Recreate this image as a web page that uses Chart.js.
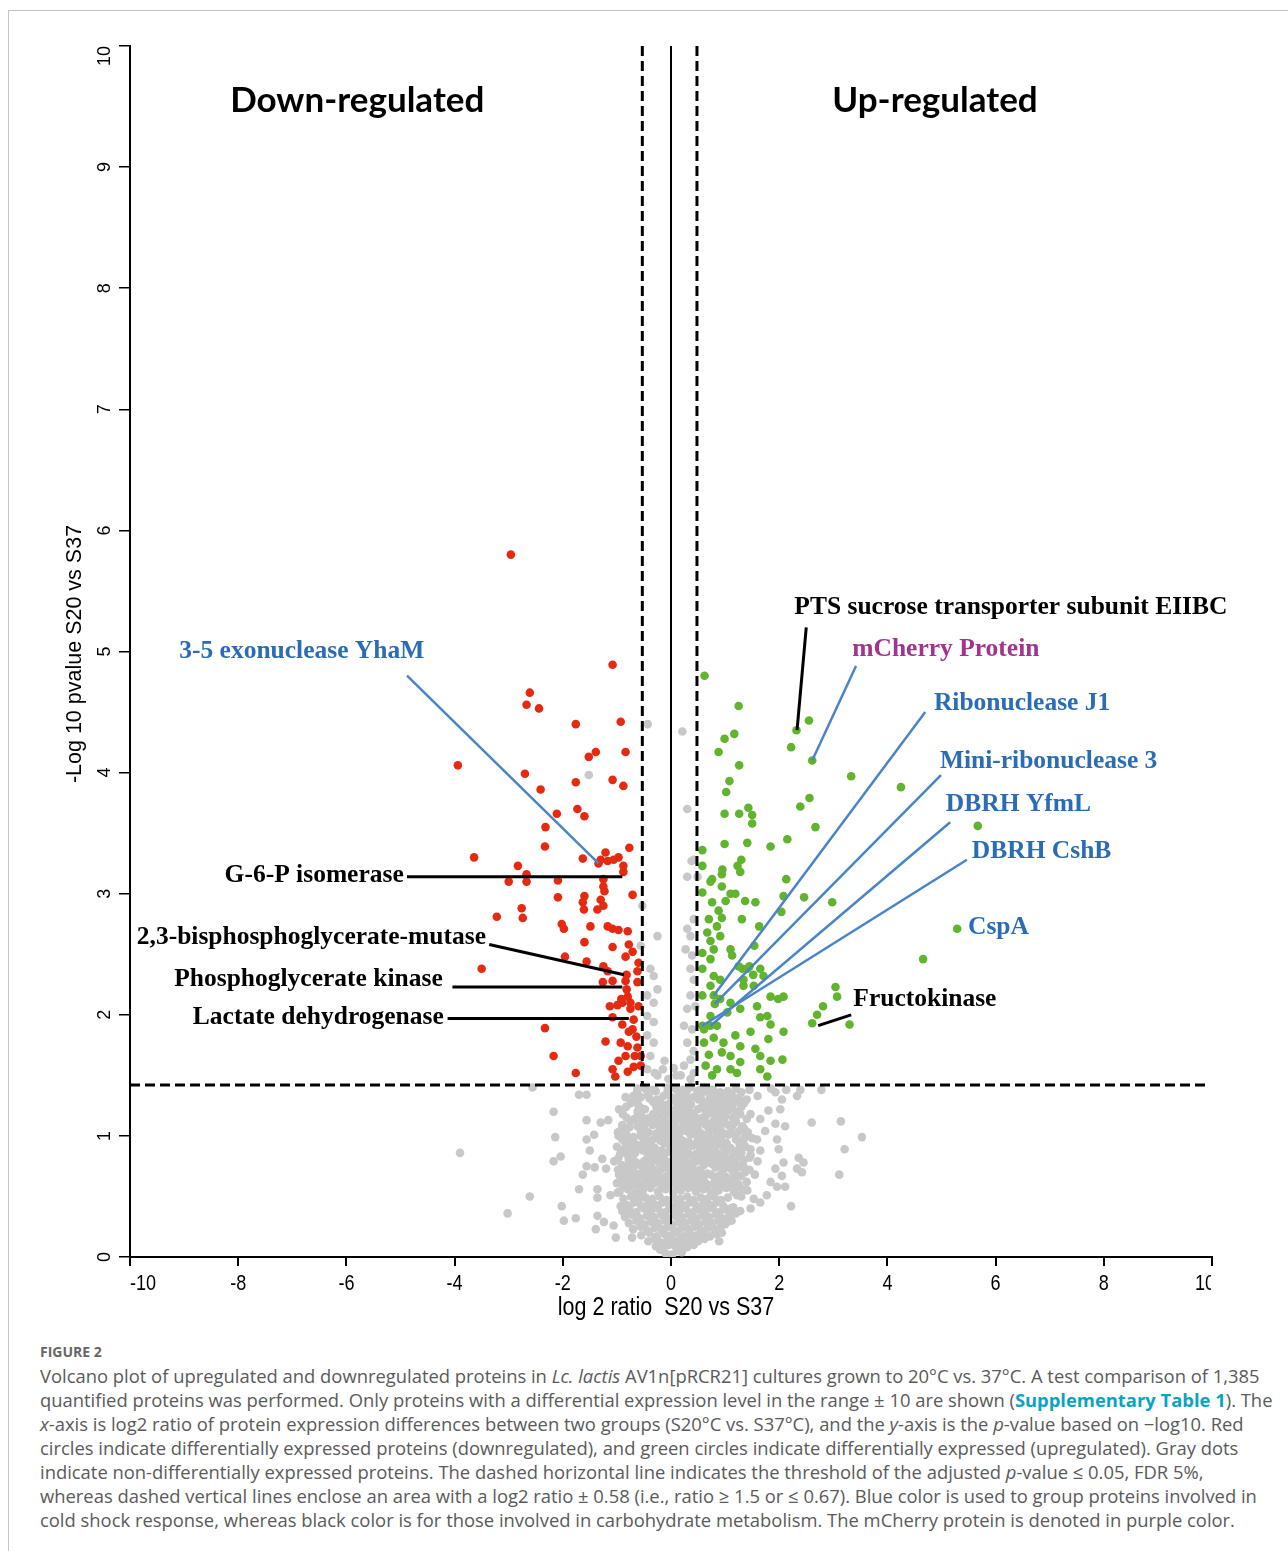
<!DOCTYPE html>
<html>
<head>
<meta charset="utf-8">
<title>Volcano plot S20 vs S37</title>
<script src="https://cdn.jsdelivr.net/npm/chart.js@4.4.1/dist/chart.umd.min.js"></script>
<style>
  html, body { margin: 0; padding: 0; background: #fff; }
  body { width: 1288px; height: 1551px; position: relative; overflow: hidden; }
  #frame { position: absolute; left: 8px; top: 10px; right: 0; bottom: 0;
           border-top: 1px solid #c4c4c4; border-left: 1px solid #c4c4c4; }
  #chart { position: absolute; left: 0; top: 0; }
  #caption { position: absolute; left: 40px; top: 1342px; color: #5a5a5a;
             font-family: "Open Sans", Lato, sans-serif; }
  #caption .fig { font-size: 14px; font-weight: 700; color: #666; height: 22px; line-height: 20px; }
  #caption .ln { font-size: 18.4px; line-height: 24px; white-space: nowrap; }
  #caption .link { color: #0aa3c2; font-weight: 700; }
</style>
</head>
<body>
<div id="frame"></div>
<canvas id="chart" width="1288" height="1335"></canvas>
<div id="caption">
  <div class="fig">FIGURE 2</div>
  <div class="ln">Volcano plot of upregulated and downregulated proteins in <i>Lc. lactis</i> AV1n[pRCR21] cultures grown to 20°C vs. 37°C. A test comparison of 1,385</div>
  <div class="ln">quantified proteins was performed. Only proteins with a differential expression level in the range ± 10 are shown (<span class="link">Supplementary Table 1</span>). The</div>
  <div class="ln"><i>x</i>-axis is log2 ratio of protein expression differences between two groups (S20°C vs. S37°C), and the <i>y</i>-axis is the <i>p</i>-value based on −log10. Red</div>
  <div class="ln">circles indicate differentially expressed proteins (downregulated), and green circles indicate differentially expressed (upregulated). Gray dots</div>
  <div class="ln">indicate non-differentially expressed proteins. The dashed horizontal line indicates the threshold of the adjusted <i>p</i>-value ≤ 0.05, FDR 5%,</div>
  <div class="ln">whereas dashed vertical lines enclose an area with a log2 ratio ± 0.58 (i.e., ratio ≥ 1.5 or ≤ 0.67). Blue color is used to group proteins involved in</div>
  <div class="ln">cold shock response, whereas black color is for those involved in carbohydrate metabolism. The mCherry protein is denoted in purple color.</div>
</div>
<script>
// tick labels
const xTicks = [-10, -8, -6, -4, -2, 0, 2, 4, 6, 8, 10];
const yTicks = [0, 1, 2, 3, 4, 5, 6, 7, 8, 9, 10];

// cut-offs (log2 ratio, -log10 p)
const leftCut = -0.53;
const rightCut = 0.48;
const pCut = 1.42;

// down-regulated proteins [log2 ratio, -log10 p]
const redPoints = [
  [-2.96,5.80],[-1.08,4.89],[-2.61,4.66],[-2.67,4.56],[-2.44,4.53],[-1.76,4.40],[-0.93,4.42],[-3.94,4.06],
  [-1.52,4.13],[-1.39,4.17],[-0.84,4.17],[-2.70,3.99],[-2.41,3.86],[-1.76,3.92],[-1.08,3.94],[-0.88,3.89],
  [-1.73,3.70],[-1.60,3.64],[-2.11,3.66],[-2.32,3.55],[-2.33,3.39],[-0.77,3.38],[-3.64,3.30],[-1.63,3.29],
  [-1.21,3.34],[-1.30,3.28],[-1.17,3.27],[-1.06,3.28],[-0.97,3.30],[-0.88,3.23],[-0.88,3.18],[-1.34,3.25],
  [-2.83,3.23],[-2.67,3.16],[-3.00,3.10],[-2.67,3.10],[-2.09,3.11],[-1.25,3.12],[-1.25,3.06],[-1.23,3.02],
  [-0.71,2.99],[-2.09,2.97],[-1.60,2.98],[-1.63,2.93],[-1.61,2.87],[-1.30,2.95],[-1.36,2.87],[-1.25,2.90],
  [-2.76,2.88],[-3.22,2.81],[-2.74,2.80],[-2.02,2.75],[-1.98,2.71],[-1.49,2.73],[-1.17,2.73],[-1.08,2.71],
  [-0.97,2.70],[-0.80,2.69],[-1.60,2.60],[-0.78,2.58],[-0.71,2.52],[-1.08,2.56],[-1.96,2.48],[-1.56,2.44],
  [-0.84,2.48],[-0.60,2.43],[-0.62,2.36],[-3.50,2.38],[-1.25,2.40],[-1.17,2.36],[-0.82,2.33],[-0.84,2.28],
  [-1.26,2.27],[-1.08,2.28],[-0.62,2.27],[-0.82,2.21],[-0.80,2.15],[-0.75,2.10],[-0.92,2.13],[-1.13,2.07],
  [-0.99,2.08],[-0.90,2.10],[-0.75,2.05],[-0.60,2.07],[-1.08,1.98],[-0.69,1.96],[-0.71,1.88],[-0.64,1.82],
  [-2.33,1.89],[-1.21,1.78],[-0.93,1.77],[-0.80,1.74],[-0.62,1.73],[-0.56,1.66],[-0.84,1.66],[-2.17,1.66],
  [-1.76,1.52],[-1.08,1.55],[-1.03,1.49],[-0.80,1.53],[-0.69,1.57],[-0.56,1.58],[-0.67,1.66],[-0.90,1.92],
  [-0.78,1.86],[-0.97,1.62]
];

// up-regulated proteins
const greenPoints = [
  [0.62,4.80],[1.25,4.55],[2.55,4.43],[2.32,4.35],[0.99,4.28],[1.17,4.32],[0.88,4.17],[2.22,4.21],
  [2.61,4.10],[1.26,4.06],[3.33,3.97],[1.08,3.93],[1.02,3.84],[2.56,3.79],[2.39,3.72],[1.43,3.71],
  [0.99,3.66],[1.26,3.66],[1.50,3.65],[1.50,3.58],[2.67,3.55],[0.99,3.41],[1.41,3.42],[1.84,3.39],
  [2.15,3.45],[0.58,3.36],[1.30,3.28],[1.23,3.23],[0.95,3.20],[0.58,3.23],[1.28,3.18],[0.76,3.12],
  [2.13,3.12],[4.25,3.88],[5.67,3.56],[5.29,2.71],[4.66,2.46],[2.98,2.93],[2.46,2.97],[2.04,2.85],
  [1.63,2.73],[1.54,2.57],[1.32,2.38],[1.45,2.40],[1.34,2.24],[1.52,2.33],[1.71,2.32],[1.84,2.15],
  [1.98,2.13],[2.08,2.15],[1.78,1.99],[1.59,2.07],[1.65,1.98],[1.84,1.92],[2.08,1.86],[1.80,1.80],
  [1.47,1.86],[3.04,2.23],[3.07,2.15],[2.81,2.07],[2.70,2.00],[2.61,1.93],[3.30,1.92],[1.65,1.66],
  [1.84,1.62],[2.06,1.63],[1.65,1.55],[1.78,1.49],[0.79,2.16],[0.81,2.09],[0.73,1.91],[0.58,1.91],
  [0.73,3.10],[0.94,3.16],[0.94,3.06],[0.58,3.01],[0.76,2.93],[0.88,2.86],[1.01,2.94],[1.10,3.00],
  [1.19,3.00],[1.37,2.94],[1.56,2.93],[1.31,2.79],[0.94,2.80],[0.70,2.79],[0.67,2.68],[0.85,2.73],
  [0.91,2.65],[0.73,2.61],[1.10,2.54],[1.13,2.49],[0.58,2.51],[0.79,2.54],[0.73,2.46],[0.58,2.38],
  [0.79,2.32],[0.91,2.29],[0.73,2.24],[0.58,2.16],[0.91,2.13],[1.10,2.10],[1.28,2.05],[1.04,2.02],
  [0.73,1.99],[0.85,1.91],[0.61,1.88],[0.79,1.81],[0.61,1.77],[0.97,1.77],[1.19,1.83],[1.28,1.74],
  [0.70,1.67],[0.94,1.69],[1.10,1.66],[1.28,1.61],[0.64,1.58],[0.85,1.55],[1.10,1.55],[0.76,1.50],
  [1.22,1.52],[1.56,1.72],[1.34,2.29],[1.65,2.38],[1.41,2.38],[1.25,2.40],[1.53,2.24],[2.08,2.98]
];

// proteins not differentially expressed
const grayPoints = [
  [-0.43,4.40],[0.21,4.34],[0.30,3.70],[-1.52,3.98],[0.38,3.27],[0.49,3.14],[0.30,3.14],[0.42,3.28],
  [-0.53,2.90],[0.30,2.71],[0.42,2.79],[0.36,2.65],[-0.25,2.65],[-0.56,2.57],[0.27,2.54],[0.39,2.49],
  [0.36,2.38],[-0.38,2.38],[-0.32,2.32],[0.42,2.29],[-0.25,2.21],[0.36,2.16],[-0.44,2.16],[-0.32,2.10],
  [0.30,2.05],[0.45,2.07],[-0.44,1.99],[-0.32,1.94],[0.24,1.91],[0.39,1.88],[-0.44,1.83],[0.30,1.77],
  [-0.32,1.77],[0.42,1.70],[-0.38,1.66],[0.36,1.63],[0.24,1.58],[-0.44,1.55],[0.42,1.52],[-0.25,1.50],
  [0.18,1.50],[-0.30,1.52],[-0.15,1.55],[-0.05,1.47],[0.10,1.50],[-0.12,1.62],[0.05,1.56],
  [-3.90,0.86],[-3.02,0.36],[-2.61,0.50],[-2.56,1.40],[-2.17,1.20],[-2.14,0.99],[-2.17,0.79],[-2.04,0.83],
  [-2.02,0.42],[-1.98,0.30],[-1.76,0.32],[-1.70,1.34],[-1.56,1.34],[-1.56,1.13],[-1.56,0.97],[-1.42,1.01],
  [-1.50,0.88],[-1.56,0.75],[-1.41,0.74],[-1.63,0.68],[-1.27,0.81],[-1.20,0.73],[-1.30,1.11],[-1.16,1.13],
  [-1.70,0.56],[-1.36,0.56],[-1.36,0.49],[-1.12,0.51],[-0.99,0.53],[-0.96,0.68],[-0.76,0.70],[-0.96,1.22],
  [-0.84,1.32],[-0.62,1.39],[-0.87,1.06],[-0.81,1.00],[-0.87,0.89],[-0.69,0.86],[-0.93,0.42],[-0.84,0.34],
  [-1.36,0.34],[-1.24,0.29],[-1.06,0.26],[-1.39,0.23],[-1.02,0.16],[-0.72,0.16],[-0.56,0.26],[-0.50,0.40],
  [-0.56,0.51],[-0.44,0.59],[-0.50,0.73],[-0.41,0.84],[-0.56,1.00],[-0.44,1.14],[-0.32,1.28],
  [2.60,1.11],[3.14,1.12],[3.53,0.99],[3.21,0.89],[3.11,0.68],[2.22,0.42],[0.89,0.13],[2.78,1.38],
  [2.39,1.38],[2.13,1.38],[2.33,1.33],[1.93,1.36],[2.05,1.30],[1.80,1.21],[2.02,1.22],[1.47,1.18],
  [1.65,1.14],[1.93,1.10],[2.11,1.08],[1.74,1.04],[1.96,0.97],[1.99,0.89],[1.59,0.97],[1.65,0.88],
  [1.47,0.84],[2.36,0.82],[2.45,0.78],[2.33,0.73],[2.42,0.70],[2.08,0.78],[1.93,0.73],[2.05,0.67],
  [1.84,0.62],[1.96,0.58],[2.11,0.58],[1.77,0.51],[1.41,0.55],[1.53,0.48],[1.65,0.45],[1.47,0.40],
  [1.22,0.51],[1.10,0.40],[1.04,0.29],[0.94,0.20],[1.10,1.03],[1.16,1.10],[1.47,0.89],[1.34,0.75],
  [1.22,0.67],[0.73,1.22],[0.91,1.17],[0.54,1.14],[0.36,1.19],[0.36,1.47],[0.54,1.38],[0.73,1.38],
  [0.91,1.36],[1.10,1.32],[1.28,1.30],[0.24,1.30],[0.48,1.33],[0.61,1.28],[0.85,1.29],[1.04,1.25],
  [1.22,1.28],
  [-0.10,0.03],[0.02,0.02],[0.12,0.05],[0.20,0.04],[-0.20,0.06],
  [-0.28,0.09],[-0.15,0.08],[-0.04,0.10],[0.08,0.09],[0.18,0.10],[0.30,0.08],[0.42,0.10],
  [-0.42,0.13],[-0.30,0.15],[-0.18,0.12],[-0.06,0.14],[0.05,0.13],[0.16,0.15],[0.27,0.12],[0.38,0.14],[0.50,0.13],[0.62,0.15],
  [-0.55,0.18],[-0.40,0.20],[-0.26,0.17],[-0.12,0.19],[0.00,0.18],[0.12,0.20],[0.24,0.17],[0.36,0.19],[0.48,0.18],[0.60,0.20],[0.72,0.17],[0.84,0.19],
  [-0.70,0.23],[-0.56,0.25],[-0.44,0.22],[-0.30,0.24],[-0.18,0.23],[-0.05,0.25],[0.07,0.22],[0.20,0.24],[0.32,0.23],[0.44,0.25],[0.56,0.22],[0.68,0.24],[0.80,0.23],[0.92,0.25],
  [-0.78,0.28],[-0.64,0.30],[-0.50,0.27],[-0.37,0.29],[-0.24,0.28],[-0.11,0.30],[0.02,0.27],[0.14,0.29],[0.27,0.28],[0.39,0.30],[0.52,0.27],[0.64,0.29],[0.76,0.28],[0.88,0.30],[1.00,0.27],[1.12,0.30],
  [-0.85,0.33],[-0.72,0.35],[-0.58,0.32],[-0.45,0.34],[-0.31,0.33],[-0.18,0.35],[-0.05,0.32],[0.08,0.34],[0.20,0.33],[0.33,0.35],[0.46,0.32],[0.58,0.34],[0.70,0.33],[0.83,0.35],[0.95,0.32],[1.08,0.34],[1.20,0.36],
  [-0.90,0.38],[-0.77,0.40],[-0.64,0.37],[-0.37,0.38],[-0.24,0.40],[-0.11,0.37],[0.02,0.39],[0.15,0.38],[0.27,0.40],[0.40,0.37],[0.52,0.39],[0.64,0.38],[0.77,0.40],[0.89,0.37],[1.02,0.39],[1.15,0.41],[1.28,0.38],
  [-0.82,0.43],[-0.68,0.45],[-0.55,0.42],[-0.42,0.44],[-0.29,0.43],[-0.16,0.45],[-0.03,0.42],[0.10,0.44],[0.22,0.43],[0.35,0.45],[0.47,0.42],[0.60,0.44],[0.72,0.43],[0.84,0.45],[0.97,0.42],
  [-0.88,0.48],[-0.74,0.50],[-0.60,0.47],[-0.47,0.49],[-0.34,0.48],[-0.21,0.50],[-0.08,0.47],[0.05,0.49],[0.17,0.48],[0.30,0.50],[0.42,0.47],[0.55,0.49],[0.67,0.48],[0.80,0.50],[0.92,0.47],[1.05,0.49],[1.30,0.50],
  [-0.95,0.54],[-0.80,0.56],[-0.66,0.53],[-0.52,0.55],[-0.38,0.57],[-0.24,0.54],[-0.10,0.56],[0.04,0.53],[0.18,0.55],[0.32,0.57],[0.46,0.54],[0.60,0.56],[0.74,0.53],[0.88,0.55],[1.02,0.57],[1.16,0.54],[1.32,0.56],
  [-0.87,0.58],[-0.73,0.59],[-0.59,0.58],[-0.45,0.59],[-0.17,0.58],[-0.03,0.59],[0.11,0.58],[0.25,0.59],[0.39,0.58],[0.53,0.59],[0.67,0.58],[0.81,0.59],[0.95,0.58],[1.09,0.59],[1.23,0.58],
  [-1.00,0.61],[-0.86,0.60],[-0.72,0.62],[-0.58,0.60],[-0.31,0.61],[-0.17,0.62],[-0.03,0.60],[0.11,0.62],[0.25,0.60],[0.39,0.61],[0.53,0.62],[0.67,0.60],[0.95,0.61],[1.09,0.62],[1.25,0.60],[1.40,0.62],
  [-0.93,0.64],[-0.65,0.64],[-0.44,0.63],[-0.24,0.64],[-0.10,0.63],[0.04,0.64],[0.18,0.63],[0.32,0.64],[0.46,0.63],[0.60,0.64],[0.81,0.63],[1.16,0.64],
  [-0.93,0.67],[-0.79,0.66],[-0.65,0.68],[-0.51,0.66],[-0.37,0.67],[-0.10,0.66],[0.04,0.68],[0.18,0.66],[0.32,0.68],[0.46,0.67],[0.60,0.66],[0.74,0.68],[0.88,0.67],[1.02,0.66],[1.30,0.67],[1.55,0.68],
  [-0.86,0.70],[-0.58,0.69],[-0.44,0.70],[-0.23,0.69],[-0.03,0.70],[0.11,0.69],[0.25,0.70],[0.39,0.69],[0.53,0.70],[0.67,0.69],[0.95,0.70],[1.16,0.69],[1.37,0.70],
  [-0.98,0.72],[-0.84,0.74],[-0.70,0.73],[-0.44,0.74],[-0.30,0.72],[-0.16,0.73],[-0.02,0.74],[0.12,0.72],[0.26,0.73],[0.40,0.74],[0.54,0.72],[0.82,0.74],[0.96,0.72],[1.10,0.73],[1.24,0.74],[1.45,0.72],
  [-0.91,0.76],[-0.77,0.77],[-0.57,0.76],[-0.37,0.77],[-0.09,0.76],[0.05,0.77],[0.19,0.76],[0.33,0.77],[0.61,0.76],[0.75,0.77],[0.89,0.76],[1.03,0.77],[1.31,0.76],
  [-1.05,0.79],[-0.78,0.80],[-0.64,0.78],[-0.50,0.79],[-0.36,0.80],[-0.22,0.78],[-0.08,0.79],[0.06,0.80],[0.20,0.78],[0.48,0.79],[0.62,0.80],[0.76,0.78],[0.90,0.79],[1.04,0.80],[1.18,0.78],[1.34,0.80],[1.60,0.79],
  [-0.97,0.82],[-0.71,0.82],[-0.43,0.83],[-0.29,0.82],[-0.15,0.81],[0.13,0.82],[0.27,0.83],[0.41,0.82],[0.55,0.81],[0.69,0.82],[0.83,0.83],[0.97,0.82],[1.11,0.81],[1.25,0.83],[1.45,0.82],
  [-0.94,0.85],[-0.80,0.84],[-0.66,0.86],[-0.38,0.85],[-0.24,0.84],[-0.10,0.86],[0.04,0.85],[0.18,0.84],[0.32,0.86],[0.46,0.85],[0.60,0.84],[0.74,0.86],[0.88,0.85],[1.16,0.84],[1.30,0.86],
  [-0.87,0.88],[-0.73,0.87],[-0.52,0.88],[-0.31,0.87],[-0.17,0.88],[-0.03,0.87],[0.11,0.88],[0.25,0.87],[0.53,0.88],[0.67,0.87],[0.81,0.88],[1.02,0.87],[1.23,0.88],
  [-1.00,0.91],[-0.72,0.90],[-0.58,0.92],[-0.44,0.91],[-0.30,0.90],[-0.02,0.92],[0.12,0.91],[0.26,0.90],[0.40,0.92],[0.54,0.91],[0.68,0.90],[0.82,0.92],[0.96,0.91],[1.10,0.90],[1.38,0.91],
  [-0.84,0.94],[-0.65,0.93],[-0.51,0.94],[-0.37,0.95],[-0.13,0.94],[0.05,0.93],[0.19,0.94],[0.33,0.95],[0.47,0.94],[0.61,0.93],[0.75,0.94],[0.89,0.95],[1.03,0.94],[1.27,0.93],
  [-0.90,0.97],[-0.76,0.96],[-0.48,0.98],[-0.34,0.97],[-0.20,0.96],[-0.06,0.98],[0.08,0.97],[0.22,0.96],[0.50,0.98],[0.64,0.97],[0.78,0.96],[0.92,0.98],[1.20,0.97],[1.34,0.96],[1.50,0.98],
  [-0.97,1.00],[-0.69,0.99],[-0.55,1.00],[-0.27,1.01],[-0.13,1.00],[0.01,0.99],[0.15,1.00],[0.36,1.01],[0.57,1.00],[0.71,0.99],[0.85,1.00],[1.06,1.01],[1.20,1.00],[1.36,0.99],
  [-0.98,1.03],[-0.84,1.02],[-0.56,1.04],[-0.42,1.03],[-0.28,1.02],[-0.14,1.04],[0.00,1.03],[0.14,1.02],[0.28,1.04],[0.42,1.03],[0.56,1.02],[0.70,1.04],[0.84,1.03],[0.98,1.02],[1.26,1.04],[1.42,1.03],
  [-0.91,1.06],[-0.77,1.07],[-0.49,1.06],[-0.21,1.07],[-0.07,1.06],[0.07,1.07],[0.21,1.06],[0.35,1.07],[0.49,1.06],[0.77,1.07],[0.91,1.06],[1.12,1.07],[1.35,1.06],
  [-0.90,1.09],[-0.62,1.08],[-0.48,1.10],[-0.34,1.09],[-0.20,1.08],[-0.06,1.10],[0.22,1.09],[0.36,1.08],[0.50,1.10],[0.64,1.09],[0.78,1.08],[0.92,1.10],[1.06,1.09],[1.32,1.08],
  [-0.75,1.12],[-0.55,1.11],[-0.27,1.12],[-0.13,1.11],[0.08,1.12],[0.29,1.11],[0.43,1.12],[0.64,1.11],[0.78,1.12],[0.99,1.11],[1.20,1.12],
  [-0.82,1.15],[-0.68,1.14],[-0.54,1.16],[-0.40,1.15],[-0.12,1.14],[0.02,1.16],[0.16,1.15],[0.30,1.14],[0.44,1.16],[0.58,1.15],[0.86,1.14],[1.00,1.16],[1.14,1.15],[1.40,1.14],
  [-0.89,1.18],[-0.61,1.17],[-0.33,1.18],[-0.19,1.17],[0.09,1.18],[0.23,1.17],[0.37,1.18],[0.65,1.17],[0.79,1.18],[0.93,1.17],[1.28,1.18],
  [-0.90,1.21],[-0.62,1.20],[-0.48,1.22],[-0.20,1.21],[-0.06,1.20],[0.08,1.22],[0.22,1.21],[0.36,1.20],[0.50,1.22],[0.64,1.21],[0.78,1.20],[0.92,1.22],[1.06,1.21],[1.20,1.20],
  [-0.83,1.24],[-0.55,1.23],[-0.27,1.24],[-0.13,1.25],[0.15,1.24],[0.29,1.23],[0.57,1.24],[0.71,1.25],[0.85,1.24],[1.13,1.23],[1.30,1.24],
  [-0.75,1.27],[-0.61,1.26],[-0.33,1.28],[-0.19,1.27],[-0.05,1.26],[0.09,1.28],[0.23,1.27],[0.37,1.26],[0.65,1.28],[0.79,1.27],[0.93,1.26],[1.07,1.28],[1.35,1.27],
  [-0.68,1.30],[-0.40,1.31],[-0.26,1.30],[0.02,1.31],[0.16,1.30],[0.30,1.31],[0.51,1.30],[0.72,1.31],[0.93,1.30],[1.21,1.31],[1.40,1.30],
  [-0.70,1.33],[-0.56,1.32],[-0.42,1.34],[-0.14,1.33],[0.00,1.32],[0.14,1.34],[0.28,1.33],[0.42,1.32],[0.56,1.34],[0.84,1.33],[0.98,1.32],[1.12,1.34],[1.60,1.33],
  [-0.63,1.36],[-0.28,1.37],[-0.07,1.36],[0.14,1.37],[0.28,1.36],[0.49,1.37],[0.70,1.36],[1.05,1.37],[1.30,1.36],
  [-0.48,1.39],[-0.34,1.38],[-0.06,1.40],[0.08,1.39],[0.22,1.38],[0.36,1.40],[0.64,1.39],[0.78,1.38],[1.20,1.39],[1.45,1.38],[1.85,1.39]
];

// labels and leader lines, placed in data coordinates
const serif = 'bold 25.5px "Liberation Serif", "Times New Roman", serif';
const blue = '#2a6cb6';
const notes = [
  { text: 'Down-regulated', x: -5.80, y: 9.55, color: '#000', font: 'bold 35px Lato, "Open Sans", sans-serif', align: 'center' },
  { text: 'Up-regulated', x: 4.88, y: 9.55, color: '#000', font: 'bold 35px Lato, "Open Sans", sans-serif', align: 'center' },
  { text: 'PTS sucrose transporter subunit EIIBC', x: 2.28, y: 5.36, color: '#000' },
  { text: 'mCherry Protein', x: 3.35, y: 5.02, color: '#a0348f' },
  { text: '3-5 exonuclease YhaM', x: -9.09, y: 5.00, color: blue },
  { text: 'Ribonuclease J1', x: 4.86, y: 4.57, color: blue },
  { text: 'Mini-ribonuclease 3', x: 4.97, y: 4.09, color: blue },
  { text: 'DBRH YfmL', x: 5.08, y: 3.74, color: blue },
  { text: 'DBRH CshB', x: 5.56, y: 3.35, color: blue },
  { text: 'CspA', x: 5.49, y: 2.72, color: blue },
  { text: 'Fructokinase', x: 3.37, y: 2.13, color: '#000' },
  { text: 'G-6-P isomerase', x: -4.94, y: 3.15, color: '#000', align: 'right' },
  { text: '2,3-bisphosphoglycerate-mutase', x: -3.42, y: 2.64, color: '#000', align: 'right' },
  { text: 'Phosphoglycerate kinase', x: -4.22, y: 2.29, color: '#000', align: 'right' },
  { text: 'Lactate dehydrogenase', x: -4.20, y: 1.98, color: '#000', align: 'right' }
];
const leaders = [
  { from: [-4.88, 4.80], to: [-1.34, 3.25], color: '#4a84c6' },
  { from: [2.50, 5.20], to: [2.33, 4.35], color: '#000' },
  { from: [3.42, 4.88], to: [2.61, 4.10], color: '#4a84c6' },
  { from: [4.70, 4.50], to: [0.79, 2.16], color: '#4a84c6' },
  { from: [4.99, 3.98], to: [0.81, 2.09], color: '#4a84c6' },
  { from: [5.16, 3.59], to: [0.73, 1.91], color: '#4a84c6' },
  { from: [5.47, 3.28], to: [0.58, 1.91], color: '#4a84c6' },
  { from: [3.33, 2.00], to: [2.72, 1.91], color: '#000' },
  { from: [-4.88, 3.14], to: [-0.90, 3.14], color: '#000' },
  { from: [-3.36, 2.58], to: [-0.87, 2.33], color: '#000' },
  { from: [-4.04, 2.23], to: [-0.90, 2.23], color: '#000' },
  { from: [-4.13, 1.97], to: [-0.78, 1.97], color: '#000' }
];

const arial = '"Liberation Sans", Arial, sans-serif';

// condensed text: the original axis font is a narrow face
function narrowText(ctx, text, x, y, size, squeeze, align) {
  ctx.save();
  ctx.font = size + 'px ' + arial;
  ctx.textAlign = align || 'center';
  ctx.translate(x, y);
  ctx.scale(squeeze, 1);
  ctx.fillText(text, 0, 0);
  ctx.restore();
}

const overlay = {
  id: 'overlay',
  afterDatasetsDraw(chart) {
    const { ctx } = chart;
    const sx = chart.scales.x, sy = chart.scales.y;
    const px = v => sx.getPixelForValue(v);
    const py = v => sy.getPixelForValue(v);
    ctx.save();
    // x = 0 line
    ctx.strokeStyle = '#000';
    ctx.lineWidth = 2;
    ctx.beginPath();
    ctx.moveTo(px(0), py(10));
    ctx.lineTo(px(0), py(0.27));
    ctx.stroke();
    // thresholds
    ctx.lineWidth = 3;
    ctx.setLineDash([10, 5]);
    ctx.beginPath();
    ctx.moveTo(px(leftCut), py(10));
    ctx.lineTo(px(leftCut), py(pCut));
    ctx.moveTo(px(rightCut), py(10));
    ctx.lineTo(px(rightCut), py(pCut));
    ctx.moveTo(px(-10), py(pCut));
    ctx.lineTo(px(10) - 2, py(pCut));
    ctx.stroke();
    ctx.setLineDash([]);
    // leader lines
    leaders.forEach(l => {
      ctx.strokeStyle = l.color;
      ctx.lineWidth = l.color === '#000' ? 3 : 2.5;
      ctx.beginPath();
      ctx.moveTo(px(l.from[0]), py(l.from[1]));
      ctx.lineTo(px(l.to[0]), py(l.to[1]));
      ctx.stroke();
    });
    // labels
    ctx.textBaseline = 'middle';
    notes.forEach(n => {
      ctx.font = n.font || serif;
      ctx.fillStyle = n.color;
      ctx.textAlign = n.align || 'left';
      ctx.fillText(n.text, px(n.x), py(n.y));
    });
    ctx.restore();
  },
  afterDraw(chart) {
    const { ctx, chartArea } = chart;
    const sx = chart.scales.x, sy = chart.scales.y;
    ctx.save();
    ctx.fillStyle = '#000';
    ctx.textBaseline = 'middle';

    // x tick labels, the last one cut at the plot edge as in the original
    ctx.save();
    ctx.beginPath();
    ctx.rect(0, chartArea.bottom, chartArea.right - 1, 60);
    ctx.clip();
    xTicks.forEach((v, i) => {
      let align = 'center', x = sx.getPixelForValue(v);
      if (i === 0) align = 'left';
      if (i === xTicks.length - 1) { align = 'right'; x += 3; }
      narrowText(ctx, String(v), x, 1284, 22, 0.82, align);
    });
    ctx.restore();

    // y tick labels, rotated
    ctx.font = '18px ' + arial;
    yTicks.forEach((v, i) => {
      ctx.save();
      ctx.translate(105, sy.getPixelForValue(v));
      ctx.rotate(-Math.PI / 2);
      ctx.textAlign = i === yTicks.length - 1 ? 'right' : 'center';
      ctx.fillText(String(v), 0, 0);
      ctx.restore();
    });

    // axis titles
    ctx.save();
    ctx.font = '21.5px ' + arial;
    ctx.textAlign = 'center';
    ctx.translate(75, 654);
    ctx.rotate(-Math.PI / 2);
    ctx.fillText('-Log 10 pvalue S20 vs S37', 0, 0);
    ctx.restore();
    narrowText(ctx, 'log 2 ratio  S20 vs S37', 666, 1308, 25, 0.86, 'center');
    ctx.restore();
  }
};

const toXY = arr => arr.map(p => ({ x: p[0], y: p[1] }));
const dot = color => ({
  backgroundColor: color,
  pointRadius: 4.3,
  pointHoverRadius: 4.3,
  pointBorderWidth: 0,
  borderWidth: 0
});

new Chart(document.getElementById('chart'), {
  type: 'scatter',
  data: {
    datasets: [
      { label: 'Up', data: toXY(greenPoints), ...dot('#62b32e') },
      { label: 'Down', data: toXY(redPoints), ...dot('#e62a12') },
      { label: 'NS', data: toXY(grayPoints), ...dot('#c8c8c8') }
    ]
  },
  options: {
    responsive: false,
    animation: false,
    events: [],
    layout: { padding: { left: 0, top: 46, right: 76, bottom: 0 } },
    plugins: { legend: { display: false }, tooltip: { enabled: false } },
    scales: {
      x: {
        type: 'linear',
        min: -10,
        max: 10,
        afterBuildTicks: s => { s.ticks = xTicks.map(v => ({ value: v })); },
        afterFit: s => { s.height = 78; s.paddingLeft = 0; s.paddingRight = 0; },
        border: { color: '#000', width: 2 },
        grid: { drawOnChartArea: false, drawTicks: true, tickLength: 9, color: '#000', lineWidth: 2 },
        ticks: { display: false }
      },
      y: {
        type: 'linear',
        min: 0,
        max: 10,
        afterBuildTicks: s => { s.ticks = yTicks.map(v => ({ value: v })); },
        afterFit: s => { s.width = 130; s.paddingTop = 0; s.paddingBottom = 0; },
        border: { color: '#000', width: 2 },
        grid: { drawOnChartArea: false, drawTicks: true, tickLength: 11, color: '#000', lineWidth: 1.5 },
        ticks: { display: false }
      }
    }
  },
  plugins: [overlay]
});
</script>
</body>
</html>
